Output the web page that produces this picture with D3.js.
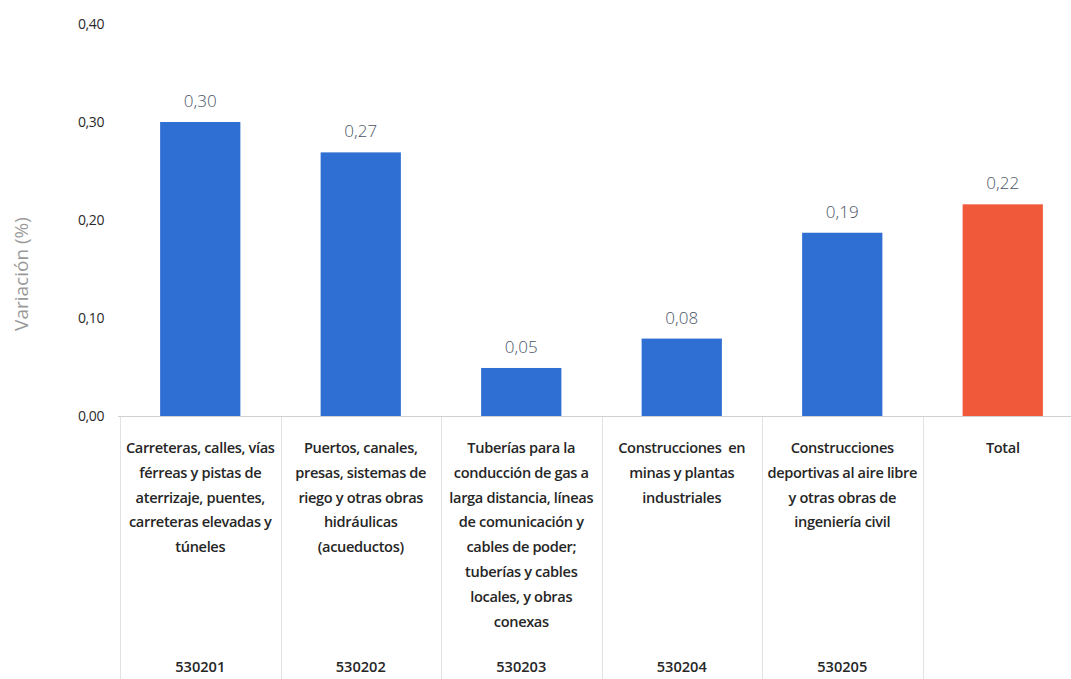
<!DOCTYPE html>
<html>
<head>
<meta charset="utf-8">
<script src="https://cdn.jsdelivr.net/npm/d3@7"></script>
<style>
  html, body { margin: 0; padding: 0; background: #ffffff; }
  svg { display: block; }
</style>
</head>
<body>
<svg id="chart" width="1071" height="679"></svg>
<script>
// ---- data ----
const codes = ["530201", "530202", "530203", "530204", "530205", "Total"];
const categoryLines = [
  ["Carreteras, calles, vías", "férreas y pistas de", "aterrizaje, puentes,", "carreteras elevadas y", "túneles"],
  ["Puertos, canales,", "presas, sistemas de", "riego y otras obras", "hidráulicas", "(acueductos)"],
  ["Tuberías para la", "conducción de gas a", "larga distancia, líneas", "de comunicación y", "cables de poder;", "tuberías y cables", "locales, y obras", "conexas"],
  ["Construcciones  en", "minas y plantas", "industriales"],
  ["Construcciones", "deportivas al aire libre", "y otras obras de", "ingeniería civil"],
  ["Total"]
];
const codeLabels = ["530201", "530202", "530203", "530204", "530205", ""];
const values = [0.300, 0.269, 0.049, 0.079, 0.187, 0.216];
const yTicks = [0, 0.10, 0.20, 0.30, 0.40];
const yTitle = "Variación (%)";

// ---- layout ----
const svg = d3.select("#chart");
const x = d3.scaleBand().domain(codes).range([120, 1083]).paddingInner(0.5).paddingOuter(0.25);
const y = d3.scaleLinear().domain([0, 0.4]).range([416, 24]);
const fmt = v => d3.format(".2f")(v).replace(".", ",");

const blue = "#2f6fd3", orange = "#f05a3b";

// zero line
svg.append("line").attr("x1", 118).attr("x2", 1071)
  .attr("y1", y(0) + 0.5).attr("y2", y(0) + 0.5)
  .attr("stroke", "#d0d0d0").attr("stroke-width", 1);

// separators
const step = x.step();
const outerStart = x.range()[0];
d3.range(codes.length + 1).forEach(i => {
  const xx = Math.round(outerStart + i * step) + 0.5;
  svg.append("line").attr("x1", xx).attr("x2", xx)
    .attr("y1", y(0) + 1).attr("y2", 679)
    .attr("stroke", "#e2e2e2").attr("stroke-width", 1);
});

// y axis ticks
const yAxis = d3.axisLeft(y).tickValues(yTicks).tickSize(0).tickPadding(0).tickFormat(fmt);
const gy = svg.append("g").attr("transform", "translate(104,0)").call(yAxis);
gy.select(".domain").remove();
gy.selectAll("text")
  .attr("font-family", "'Open Sans', sans-serif")
  .attr("font-size", 14)
  .attr("fill", "#2a2a2a")
  .attr("letter-spacing", "-0.4");

// y title
svg.append("text")
  .attr("transform", "translate(28,274) rotate(-90)")
  .attr("text-anchor", "middle")
  .attr("font-family", "'Open Sans', sans-serif")
  .attr("font-size", 19)
  .attr("fill", "#9a9a9a")
  .text(yTitle);

// bars
svg.selectAll("rect.bar").data(values).enter().append("rect")
  .attr("class", "bar")
  .attr("x", (d, i) => x(codes[i]))
  .attr("width", x.bandwidth())
  .attr("y", d => y(d))
  .attr("height", d => y(0) - y(d))
  .attr("fill", (d, i) => codes[i] === "Total" ? orange : blue);

// value labels
svg.selectAll("text.val").data(values).enter().append("text")
  .attr("class", "val")
  .attr("x", (d, i) => x(codes[i]) + x.bandwidth() / 2)
  .attr("y", d => y(d) - 15)
  .attr("text-anchor", "middle")
  .attr("font-family", "'Open Sans', sans-serif")
  .attr("font-weight", 300)
  .attr("font-size", 17)
  .attr("fill", "#4a5566")
  .text(d => fmt(d));

// category labels
categoryLines.forEach((lines, i) => {
  const cx = x(codes[i]) + x.bandwidth() / 2;
  const t = svg.append("text")
    .attr("text-anchor", "middle")
    .attr("font-family", "'Open Sans', sans-serif")
    .attr("font-weight", 600)
    .attr("font-size", 14.6)
    .attr("letter-spacing", "-0.35")
    .style("white-space", "pre")
    .attr("fill", "#262626");
  lines.forEach((ln, j) => {
    t.append("tspan").attr("x", cx).attr("y", 453 + j * 24.8).text(ln);
  });
  if (codeLabels[i]) {
    svg.append("text")
      .attr("x", cx).attr("y", 672)
      .attr("text-anchor", "middle")
      .attr("font-family", "'Open Sans', sans-serif")
      .attr("font-weight", 600)
      .attr("font-size", 14.6)
      .attr("fill", "#262626")
      .text(codeLabels[i]);
  }
});
</script>
</body>
</html>
